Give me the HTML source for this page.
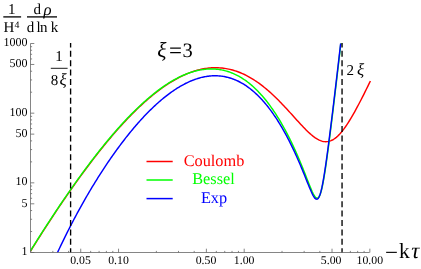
<!DOCTYPE html>
<html><head><meta charset="utf-8"><title>plot</title>
<style>
html,body{margin:0;padding:0;background:#fff;}
body{width:421px;height:269px;overflow:hidden;}
svg{display:block;font-family:"Liberation Serif",serif;}
.i{font-style:italic;}
</style></head><body>
<svg width="421" height="269" viewBox="0 0 421 269">
<rect width="421" height="269" fill="#fff"/>
<defs><clipPath id="c"><rect x="29.5" y="43.5" width="342.1" height="209.0"/></clipPath></defs>
<g clip-path="url(#c)" fill="none" stroke-width="1.45" stroke-linejoin="round">
<path d="M30.50,251.15 L31.81,249.05 L33.12,246.95 L34.44,244.86 L35.75,242.77 L37.06,240.69 L38.37,238.62 L39.69,236.56 L41.00,234.50 L42.31,232.45 L43.62,230.40 L44.94,228.36 L46.25,226.33 L47.56,224.31 L48.87,222.30 L50.19,220.29 L51.50,218.29 L52.81,216.30 L54.12,214.31 L55.43,212.34 L56.75,210.37 L58.06,208.41 L59.37,206.45 L60.68,204.51 L62.00,202.57 L63.31,200.64 L64.62,198.72 L65.93,196.81 L67.25,194.91 L68.56,193.02 L69.87,191.13 L71.18,189.26 L72.50,187.39 L73.81,185.53 L75.12,183.68 L76.43,181.84 L77.74,180.01 L79.06,178.19 L80.37,176.38 L81.68,174.58 L82.99,172.79 L84.31,171.01 L85.62,169.24 L86.93,167.48 L88.24,165.73 L89.56,163.99 L90.87,162.26 L92.18,160.54 L93.49,158.83 L94.81,157.13 L96.12,155.45 L97.43,153.77 L98.74,152.11 L100.05,150.46 L101.37,148.81 L102.68,147.19 L103.99,145.57 L105.30,143.96 L106.62,142.37 L107.93,140.79 L109.24,139.22 L110.55,137.66 L111.87,136.12 L113.18,134.58 L114.49,133.06 L115.80,131.56 L117.12,130.07 L118.43,128.59 L119.74,127.12 L121.05,125.67 L122.36,124.23 L123.68,122.80 L124.99,121.39 L126.30,119.99 L127.61,118.61 L128.93,117.24 L130.24,115.89 L131.55,114.55 L132.86,113.23 L134.18,111.92 L135.49,110.62 L136.80,109.34 L138.11,108.08 L139.43,106.83 L140.74,105.60 L142.05,104.39 L143.36,103.19 L144.67,102.01 L145.99,100.84 L147.30,99.69 L148.61,98.56 L149.92,97.44 L151.24,96.35 L152.55,95.27 L153.86,94.20 L155.17,93.16 L156.49,92.13 L157.80,91.12 L159.11,90.13 L160.42,89.16 L161.74,88.21 L163.05,87.27 L164.36,86.36 L165.67,85.46 L166.98,84.59 L168.30,83.73 L169.61,82.89 L170.92,82.08 L172.23,81.28 L173.55,80.51 L174.86,79.75 L176.17,79.02 L177.48,78.30 L178.80,77.61 L180.11,76.94 L181.42,76.29 L182.73,75.67 L184.05,75.06 L185.36,74.48 L186.67,73.92 L187.98,73.38 L189.29,72.87 L190.61,72.38 L191.92,71.91 L193.23,71.47 L194.54,71.05 L195.86,70.65 L197.17,70.28 L198.48,69.93 L199.79,69.61 L201.11,69.31 L202.42,69.04 L203.73,68.79 L205.04,68.57 L206.36,68.37 L207.67,68.20 L208.98,68.05 L210.29,67.93 L211.61,67.84 L212.92,67.78 L214.23,67.74 L215.54,67.72 L216.85,67.74 L218.17,67.78 L219.48,67.85 L220.79,67.94 L222.10,68.07 L223.42,68.22 L224.73,68.40 L226.04,68.60 L227.35,68.84 L228.67,69.11 L229.98,69.40 L231.29,69.72 L232.60,70.07 L233.92,70.45 L235.23,70.86 L236.54,71.30 L237.85,71.76 L239.16,72.26 L240.48,72.78 L241.79,73.34 L243.10,73.92 L244.41,74.53 L245.73,75.18 L247.04,75.85 L248.35,76.55 L249.66,77.28 L250.98,78.04 L252.29,78.83 L253.60,79.64 L254.91,80.49 L256.23,81.36 L257.54,82.27 L258.85,83.20 L260.16,84.16 L261.47,85.15 L262.79,86.16 L264.10,87.21 L265.41,88.28 L266.72,89.37 L268.04,90.49 L269.35,91.64 L270.66,92.82 L271.97,94.01 L273.29,95.24 L274.60,96.48 L275.91,97.75 L277.22,99.04 L278.54,100.35 L279.85,101.68 L281.16,103.02 L282.47,104.39 L283.78,105.77 L285.10,107.17 L286.41,108.58 L287.72,110.01 L289.03,111.44 L290.35,112.88 L291.66,114.33 L292.97,115.78 L294.28,117.24 L295.60,118.69 L296.91,120.14 L298.22,121.59 L299.53,123.02 L300.85,124.44 L302.16,125.84 L303.47,127.22 L304.78,128.58 L306.09,129.90 L307.41,131.19 L308.72,132.43 L310.03,133.63 L311.34,134.77 L312.66,135.85 L313.97,136.86 L315.28,137.80 L316.59,138.66 L317.91,139.42 L319.22,140.09 L320.53,140.65 L321.84,141.10 L323.16,141.43 L324.47,141.64 L325.78,141.71 L327.09,141.65 L328.40,141.46 L329.72,141.12 L331.03,140.65 L332.34,140.03 L333.65,139.27 L334.97,138.37 L336.28,137.34 L337.59,136.18 L338.90,134.89 L340.22,133.48 L341.53,131.95 L342.84,130.32 L344.15,128.58 L345.47,126.75 L346.78,124.83 L348.09,122.82 L349.40,120.74 L350.71,118.59 L352.03,116.38 L353.34,114.10 L354.65,111.77 L355.96,109.40 L357.28,106.97 L358.59,104.51 L359.90,102.01 L361.21,99.47 L362.53,96.90 L363.84,94.31 L365.15,91.69 L366.46,89.04 L367.78,86.38 L369.09,83.69 L370.40,80.99" stroke="#ff0000"/>
<path d="M30.50,250.81 L31.54,249.13 L32.59,247.46 L33.63,245.79 L34.67,244.13 L35.72,242.47 L36.76,240.81 L37.80,239.16 L38.85,237.51 L39.89,235.87 L40.93,234.23 L41.98,232.60 L43.02,230.97 L44.07,229.34 L45.11,227.72 L46.15,226.10 L47.20,224.49 L48.24,222.89 L49.28,221.28 L50.33,219.69 L51.37,218.09 L52.41,216.50 L53.46,214.92 L54.50,213.34 L55.54,211.77 L56.59,210.20 L57.63,208.64 L58.67,207.08 L59.72,205.53 L60.76,203.98 L61.80,202.44 L62.85,200.90 L63.89,199.37 L64.93,197.84 L65.98,196.32 L67.02,194.80 L68.07,193.29 L69.11,191.79 L70.15,190.29 L71.20,188.79 L72.24,187.31 L73.28,185.82 L74.33,184.35 L75.37,182.88 L76.41,181.41 L77.46,179.95 L78.50,178.50 L79.54,177.06 L80.59,175.62 L81.63,174.18 L82.67,172.75 L83.72,171.33 L84.76,169.92 L85.80,168.51 L86.85,167.10 L87.89,165.71 L88.93,164.32 L89.98,162.94 L91.02,161.56 L92.07,160.19 L93.11,158.83 L94.15,157.47 L95.20,156.12 L96.24,154.78 L97.28,153.45 L98.33,152.12 L99.37,150.80 L100.41,149.49 L101.46,148.18 L102.50,146.88 L103.54,145.59 L104.59,144.31 L105.63,143.03 L106.67,141.77 L107.72,140.50 L108.76,139.25 L109.80,138.01 L110.85,136.77 L111.89,135.54 L112.93,134.32 L113.98,133.11 L115.02,131.90 L116.07,130.71 L117.11,129.52 L118.15,128.34 L119.20,127.17 L120.24,126.01 L121.28,124.86 L122.33,123.71 L123.37,122.58 L124.41,121.45 L125.46,120.33 L126.50,119.22 L127.54,118.12 L128.59,117.03 L129.63,115.95 L130.67,114.88 L131.72,113.82 L132.76,112.77 L133.80,111.73 L134.85,110.69 L135.89,109.67 L136.93,108.66 L137.98,107.65 L139.02,106.66 L140.07,105.68 L141.11,104.71 L142.15,103.75 L143.20,102.80 L144.24,101.85 L145.28,100.92 L146.33,100.01 L147.37,99.10 L148.41,98.20 L149.46,97.31 L150.50,96.44 L151.54,95.58 L152.59,94.72 L153.63,93.88 L154.67,93.06 L155.72,92.24 L156.76,91.43 L157.80,90.64 L158.85,89.86 L159.89,89.09 L160.93,88.33 L161.98,87.59 L163.02,86.86 L164.07,86.14 L165.11,85.43 L166.15,84.74 L167.20,84.06 L168.24,83.39 L169.28,82.73 L170.33,82.09 L171.37,81.47 L172.41,80.85 L173.46,80.25 L174.50,79.67 L175.54,79.09 L176.59,78.53 L177.63,77.99 L178.67,77.46 L179.72,76.95 L180.76,76.45 L181.80,75.96 L182.85,75.49 L183.89,75.03 L184.93,74.59 L185.98,74.17 L187.02,73.76 L188.07,73.36 L189.11,72.98 L190.15,72.62 L191.20,72.27 L192.24,71.94 L193.28,71.63 L194.33,71.33 L195.37,71.05 L196.41,70.78 L197.46,70.54 L198.50,70.31 L199.54,70.09 L200.59,69.90 L201.63,69.72 L202.67,69.56 L203.72,69.42 L204.76,69.29 L205.80,69.18 L206.85,69.10 L207.89,69.03 L208.93,68.98 L209.98,68.94 L211.02,68.93 L212.07,68.94 L213.11,68.96 L214.15,69.01 L215.20,69.07 L216.24,69.16 L217.28,69.27 L218.33,69.39 L219.37,69.54 L220.41,69.70 L221.46,69.89 L222.50,70.10 L223.54,70.33 L224.59,70.58 L225.63,70.86 L226.67,71.15 L227.72,71.47 L228.76,71.81 L229.80,72.17 L230.85,72.56 L231.89,72.97 L232.93,73.40 L233.98,73.85 L235.02,74.33 L236.07,74.83 L237.11,75.36 L238.15,75.91 L239.20,76.49 L240.24,77.08 L241.28,77.71 L242.33,78.36 L243.37,79.03 L244.41,79.74 L245.46,80.46 L246.50,81.21 L247.54,81.99 L248.59,82.80 L249.63,83.63 L250.67,84.49 L251.72,85.38 L252.76,86.30 L253.80,87.24 L254.85,88.21 L255.89,89.21 L256.93,90.24 L257.98,91.29 L259.02,92.38 L260.07,93.50 L261.11,94.64 L262.15,95.82 L263.20,97.02 L264.24,98.26 L265.28,99.53 L266.33,100.83 L267.37,102.16 L268.41,103.52 L269.46,104.91 L270.50,106.34 L271.54,107.80 L272.59,109.29 L273.63,110.82 L274.67,112.38 L275.72,113.97 L276.76,115.60 L277.80,117.26 L278.85,118.96 L279.89,120.69 L280.93,122.46 L281.98,124.27 L283.02,126.11 L284.07,127.99 L285.11,129.90 L286.15,131.85 L287.20,133.84 L288.24,135.87 L289.28,137.94 L290.33,140.04 L291.37,142.19 L292.41,144.37 L293.46,146.59 L294.50,148.86 L295.54,151.16 L296.59,153.50 L297.63,155.88 L298.67,158.30 L299.72,160.77 L300.76,163.27 L301.80,165.80 L302.85,168.37 L303.89,170.98 L304.93,173.61 L305.98,176.26 L307.02,178.92 L308.07,181.58 L309.11,184.22 L310.15,186.82 L311.20,189.32 L312.24,191.69 L313.28,193.86 L314.33,195.73 L315.37,197.18 L316.41,198.08 L317.46,198.27 L318.50,197.61 L319.54,195.96 L320.59,193.27 L321.63,189.53 L322.67,184.81 L323.72,179.23 L324.76,172.92 L325.80,166.04 L326.85,158.70 L327.89,151.02 L328.93,143.07 L329.98,134.91 L331.02,126.60 L332.07,118.15 L333.11,109.59 L334.15,100.93 L335.20,92.19 L336.24,83.38 L337.28,74.48 L338.33,65.51 L339.37,56.48 L340.41,47.37 L341.46,38.19 L342.50,28.94" stroke="#00ff00"/>
<path d="M50.00,269.43 L50.98,267.17 L51.96,264.93 L52.93,262.71 L53.91,260.51 L54.89,258.34 L55.87,256.18 L56.85,254.04 L57.83,251.92 L58.80,249.82 L59.78,247.73 L60.76,245.67 L61.74,243.62 L62.72,241.58 L63.70,239.57 L64.67,237.57 L65.65,235.58 L66.63,233.61 L67.61,231.66 L68.59,229.72 L69.57,227.80 L70.54,225.89 L71.52,224.00 L72.50,222.11 L73.48,220.25 L74.46,218.40 L75.43,216.56 L76.41,214.73 L77.39,212.92 L78.37,211.12 L79.35,209.33 L80.33,207.56 L81.30,205.80 L82.28,204.05 L83.26,202.31 L84.24,200.59 L85.22,198.88 L86.20,197.18 L87.17,195.49 L88.15,193.82 L89.13,192.15 L90.11,190.50 L91.09,188.86 L92.07,187.23 L93.04,185.61 L94.02,184.01 L95.00,182.41 L95.98,180.83 L96.96,179.26 L97.93,177.70 L98.91,176.15 L99.89,174.61 L100.87,173.08 L101.85,171.57 L102.83,170.06 L103.80,168.57 L104.78,167.08 L105.76,165.61 L106.74,164.15 L107.72,162.70 L108.70,161.26 L109.67,159.83 L110.65,158.41 L111.63,157.00 L112.61,155.60 L113.59,154.22 L114.57,152.84 L115.54,151.48 L116.52,150.12 L117.50,148.78 L118.48,147.45 L119.46,146.12 L120.43,144.81 L121.41,143.51 L122.39,142.22 L123.37,140.94 L124.35,139.68 L125.33,138.42 L126.30,137.17 L127.28,135.94 L128.26,134.71 L129.24,133.50 L130.22,132.30 L131.20,131.10 L132.17,129.92 L133.15,128.75 L134.13,127.59 L135.11,126.45 L136.09,125.31 L137.07,124.18 L138.04,123.07 L139.02,121.96 L140.00,120.87 L140.98,119.79 L141.96,118.72 L142.93,117.66 L143.91,116.62 L144.89,115.58 L145.87,114.56 L146.85,113.55 L147.83,112.55 L148.80,111.56 L149.78,110.58 L150.76,109.61 L151.74,108.66 L152.72,107.72 L153.70,106.79 L154.67,105.87 L155.65,104.97 L156.63,104.07 L157.61,103.19 L158.59,102.32 L159.57,101.46 L160.54,100.62 L161.52,99.79 L162.50,98.97 L163.48,98.16 L164.46,97.37 L165.43,96.59 L166.41,95.82 L167.39,95.06 L168.37,94.32 L169.35,93.59 L170.33,92.87 L171.30,92.17 L172.28,91.48 L173.26,90.80 L174.24,90.14 L175.22,89.49 L176.20,88.85 L177.17,88.23 L178.15,87.62 L179.13,87.03 L180.11,86.45 L181.09,85.88 L182.07,85.33 L183.04,84.79 L184.02,84.27 L185.00,83.76 L185.98,83.26 L186.96,82.78 L187.93,82.32 L188.91,81.87 L189.89,81.43 L190.87,81.01 L191.85,80.61 L192.83,80.22 L193.80,79.84 L194.78,79.49 L195.76,79.14 L196.74,78.82 L197.72,78.50 L198.70,78.21 L199.67,77.93 L200.65,77.67 L201.63,77.42 L202.61,77.19 L203.59,76.98 L204.57,76.78 L205.54,76.60 L206.52,76.44 L207.50,76.29 L208.48,76.16 L209.46,76.05 L210.43,75.96 L211.41,75.88 L212.39,75.82 L213.37,75.78 L214.35,75.76 L215.33,75.76 L216.30,75.77 L217.28,75.80 L218.26,75.85 L219.24,75.92 L220.22,76.01 L221.20,76.12 L222.17,76.25 L223.15,76.39 L224.13,76.56 L225.11,76.74 L226.09,76.95 L227.07,77.18 L228.04,77.42 L229.02,77.69 L230.00,77.97 L230.98,78.28 L231.96,78.61 L232.93,78.96 L233.91,79.33 L234.89,79.72 L235.87,80.13 L236.85,80.57 L237.83,81.02 L238.80,81.50 L239.78,82.00 L240.76,82.52 L241.74,83.07 L242.72,83.64 L243.70,84.23 L244.67,84.84 L245.65,85.48 L246.63,86.14 L247.61,86.83 L248.59,87.54 L249.57,88.27 L250.54,89.03 L251.52,89.81 L252.50,90.62 L253.48,91.45 L254.46,92.31 L255.43,93.19 L256.41,94.10 L257.39,95.03 L258.37,95.99 L259.35,96.97 L260.33,97.99 L261.30,99.03 L262.28,100.09 L263.26,101.18 L264.24,102.30 L265.22,103.45 L266.20,104.63 L267.17,105.83 L268.15,107.06 L269.13,108.33 L270.11,109.62 L271.09,110.93 L272.07,112.28 L273.04,113.66 L274.02,115.07 L275.00,116.51 L275.98,117.97 L276.96,119.47 L277.93,121.00 L278.91,122.56 L279.89,124.15 L280.87,125.78 L281.85,127.43 L282.83,129.12 L283.80,130.84 L284.78,132.59 L285.76,134.38 L286.74,136.20 L287.72,138.05 L288.70,139.94 L289.67,141.86 L290.65,143.82 L291.63,145.81 L292.61,147.83 L293.59,149.89 L294.57,151.99 L295.54,154.12 L296.52,156.28 L297.50,158.48 L298.48,160.72 L299.46,162.99 L300.43,165.29 L301.41,167.63 L302.39,169.99 L303.37,172.39 L304.35,174.81 L305.33,177.24 L306.30,179.69 L307.28,182.14 L308.26,184.58 L309.24,186.99 L310.22,189.33 L311.20,191.58 L312.17,193.69 L313.15,195.59 L314.13,197.21 L315.11,198.43 L316.09,199.15 L317.07,199.25 L318.04,198.60 L319.02,197.10 L320.00,194.70 L320.98,191.39 L321.96,187.21 L322.93,182.25 L323.91,176.62 L324.89,170.43 L325.87,163.80 L326.85,156.81 L327.83,149.55 L328.80,142.08 L329.78,134.44 L330.76,126.66 L331.74,118.77 L332.72,110.79 L333.70,102.72 L334.67,94.57 L335.65,86.36 L336.63,78.07 L337.61,69.73 L338.59,61.32 L339.57,52.84 L340.54,44.31 L341.52,35.72 L342.50,27.06" stroke="#0000ff"/>
</g>
<g stroke="#000" stroke-width="1.35" stroke-dasharray="6 3.4" stroke-dashoffset="1.6" fill="none">
<line x1="70.6" y1="43" x2="70.6" y2="252.8"/>
<line x1="342.05" y1="43" x2="342.05" y2="252.8"/>
</g>
<g stroke="#666" stroke-width="0.8" fill="none">
<line x1="30.5" y1="43.5" x2="30.5" y2="252.5"/>
<line x1="30.5" y1="252.5" x2="369.6" y2="252.5"/>
<line x1="30.5" y1="252.50" x2="34.3" y2="252.50"/>
<line x1="30.5" y1="231.53" x2="32.1" y2="231.53"/>
<line x1="30.5" y1="219.26" x2="32.1" y2="219.26"/>
<line x1="30.5" y1="210.56" x2="32.1" y2="210.56"/>
<line x1="30.5" y1="203.80" x2="34.3" y2="203.80"/>
<line x1="30.5" y1="198.29" x2="32.1" y2="198.29"/>
<line x1="30.5" y1="193.62" x2="32.1" y2="193.62"/>
<line x1="30.5" y1="189.58" x2="32.1" y2="189.58"/>
<line x1="30.5" y1="186.02" x2="32.1" y2="186.02"/>
<line x1="30.5" y1="182.83" x2="34.3" y2="182.83"/>
<line x1="30.5" y1="161.86" x2="32.1" y2="161.86"/>
<line x1="30.5" y1="149.59" x2="32.1" y2="149.59"/>
<line x1="30.5" y1="140.89" x2="32.1" y2="140.89"/>
<line x1="30.5" y1="134.14" x2="34.3" y2="134.14"/>
<line x1="30.5" y1="128.62" x2="32.1" y2="128.62"/>
<line x1="30.5" y1="123.96" x2="32.1" y2="123.96"/>
<line x1="30.5" y1="119.92" x2="32.1" y2="119.92"/>
<line x1="30.5" y1="116.35" x2="32.1" y2="116.35"/>
<line x1="30.5" y1="113.17" x2="34.3" y2="113.17"/>
<line x1="30.5" y1="92.19" x2="32.1" y2="92.19"/>
<line x1="30.5" y1="79.93" x2="32.1" y2="79.93"/>
<line x1="30.5" y1="71.22" x2="32.1" y2="71.22"/>
<line x1="30.5" y1="64.47" x2="34.3" y2="64.47"/>
<line x1="30.5" y1="58.95" x2="32.1" y2="58.95"/>
<line x1="30.5" y1="54.29" x2="32.1" y2="54.29"/>
<line x1="30.5" y1="50.25" x2="32.1" y2="50.25"/>
<line x1="30.5" y1="46.69" x2="32.1" y2="46.69"/>
<line x1="30.5" y1="43.50" x2="34.3" y2="43.50"/>
<line x1="30.72" y1="252.5" x2="30.72" y2="250.9"/>
<line x1="52.85" y1="252.5" x2="52.85" y2="250.9"/>
<line x1="68.55" y1="252.5" x2="68.55" y2="250.9"/>
<line x1="80.73" y1="252.5" x2="80.73" y2="248.7"/>
<line x1="90.67" y1="252.5" x2="90.67" y2="250.9"/>
<line x1="99.09" y1="252.5" x2="99.09" y2="250.9"/>
<line x1="106.37" y1="252.5" x2="106.37" y2="250.9"/>
<line x1="112.80" y1="252.5" x2="112.80" y2="250.9"/>
<line x1="118.55" y1="252.5" x2="118.55" y2="248.7"/>
<line x1="156.37" y1="252.5" x2="156.37" y2="250.9"/>
<line x1="178.50" y1="252.5" x2="178.50" y2="250.9"/>
<line x1="194.20" y1="252.5" x2="194.20" y2="250.9"/>
<line x1="206.38" y1="252.5" x2="206.38" y2="248.7"/>
<line x1="216.32" y1="252.5" x2="216.32" y2="250.9"/>
<line x1="224.74" y1="252.5" x2="224.74" y2="250.9"/>
<line x1="232.02" y1="252.5" x2="232.02" y2="250.9"/>
<line x1="238.45" y1="252.5" x2="238.45" y2="250.9"/>
<line x1="244.20" y1="252.5" x2="244.20" y2="248.7"/>
<line x1="282.02" y1="252.5" x2="282.02" y2="250.9"/>
<line x1="304.15" y1="252.5" x2="304.15" y2="250.9"/>
<line x1="319.85" y1="252.5" x2="319.85" y2="250.9"/>
<line x1="332.03" y1="252.5" x2="332.03" y2="248.7"/>
<line x1="341.97" y1="252.5" x2="341.97" y2="250.9"/>
<line x1="350.39" y1="252.5" x2="350.39" y2="250.9"/>
<line x1="357.67" y1="252.5" x2="357.67" y2="250.9"/>
<line x1="364.10" y1="252.5" x2="364.10" y2="250.9"/>
<line x1="369.85" y1="252.5" x2="369.85" y2="248.7"/>
</g>
<g style="will-change:transform" text-rendering="geometricPrecision">
<g font-size="12" fill="#000" text-anchor="end">
<text x="27.4" y="45.9">1000</text>
<text x="27.4" y="66.9">500</text>
<text x="27.4" y="115.6">100</text>
<text x="27.4" y="136.9">50</text>
<text x="27.4" y="184.9">10</text>
<text x="27.4" y="206.9">5</text>
<text x="27.4" y="254.6">1</text>
</g>
<g font-size="11.8" fill="#000" text-anchor="middle">
<text x="80.5" y="264.2">0.05</text>
<text x="118.5" y="264.2">0.10</text>
<text x="206.0" y="264.2">0.50</text>
<text x="244.2" y="264.2">1.00</text>
<text x="331.2" y="264.2">5.00</text>
<text x="369.8" y="264.2">10.00</text>
</g>
<!-- axis label -->
<g font-size="15" fill="#000">
<text x="8.1" y="14.4">1</text>
<text x="3.5" y="32.3">H</text>
<text x="14.5" y="27.8" font-size="9.8">4</text>
<text x="33.5" y="14.4">d</text>
<text x="43.6" y="14.8" class="i" font-size="16.8">ρ</text>
<text x="26.8" y="32.3">d</text>
<text x="36.6" y="32.3">l</text>
<text x="39.9" y="32.3">n</text>
<text x="50.8" y="32.3">k</text>
</g>
<g stroke="#000" stroke-width="1.3" >
<line x1="3.3" y1="16.9" x2="21.1" y2="16.9"/>
<line x1="27" y1="16.9" x2="57" y2="16.9"/>
<line x1="50.8" y1="68.3" x2="67.6" y2="68.3" stroke-width="0.9"/>
</g>
<!-- 1/(8 xi) -->
<g font-size="15" fill="#000">
<text x="55.3" y="61.1">1</text>
<text x="50.8" y="84.7">8</text>
<text x="59.6" y="85.4" class="i" font-size="16.8">ξ</text>
</g>
<g font-size="15" fill="#000">
<text x="346.6" y="75">2</text>
<text x="357" y="75.3" class="i" font-size="16.8">ξ</text>
</g>
<!-- xi=3 -->
<g fill="#000">
<text x="157.3" y="57" class="i" font-size="21.5">ξ</text>
<text x="168.9" y="58" font-size="23">=</text>
<text x="182.4" y="57.1" font-size="20.5">3</text>
</g>
<!-- -k tau -->
<g fill="#000">
<text x="385" y="260" font-size="23">−</text>
<text x="399" y="257.7" font-size="21.5">k</text>
<text x="411.2" y="257.9" class="i" font-size="22.5">τ</text>
</g>
<!-- legend -->
<g stroke-width="1.5">
<line x1="146.5" y1="161.5" x2="172.7" y2="161.5" stroke="#ff0000"/>
<line x1="146.5" y1="180" x2="172.7" y2="180" stroke="#00ff00"/>
<line x1="146.5" y1="198.6" x2="172.7" y2="198.6" stroke="#0000ff"/>
</g>
<g font-size="16.3" text-anchor="middle">
<text x="214" y="165.5" fill="#ff0000">Coulomb</text>
<text x="213.5" y="184" fill="#00ff00">Bessel</text>
<text x="214" y="202.5" fill="#0000ff">Exp</text>
</g>
</g>
</svg>
</body></html>
